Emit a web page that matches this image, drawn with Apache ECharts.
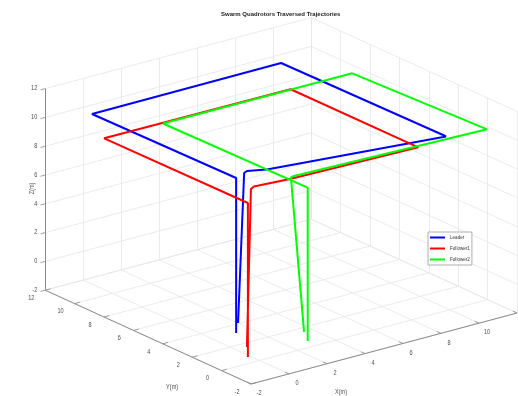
<!DOCTYPE html>
<html>
<head>
<meta charset="utf-8">
<script src="https://cdn.jsdelivr.net/npm/echarts@6/dist/echarts.min.js"></script>
<style>html,body{margin:0;padding:0;background:#fff}#c{width:518px;height:396px}</style>
</head>
<body>
<div id="c"></div>
<script>
// ---- data ----
const titleText = 'Swarm Quadrotors Traversed Trajectories';
const seriesNames = ['Leader', 'Follower1', 'Follower2'];
const gridTicks = [-2, 0, 2, 4, 6, 8, 10, 12];
const xTickLabels = ['-2', '0', '2', '4', '6', '8', '10'];
const yTickLabels = ['-2', '0', '2', '4', '6', '8', '10', '12'];
const zTickLabels = ['-2', '0', '2', '4', '6', '8', '10', '12'];
const axisNames = ['X(m)', 'Y(m)', 'Z(m)'];

const leaderX = [-0.29, 0.03, 0.27, 1.04, 9.39, 9.40, 9.27, -0.72, -0.60, -0.60];
const leaderY = [1.09, 1.09, 1.21, 0.85, -0.54, -0.33, 10.52, 10.47, 0.82, 0.82];
const leaderZ = [0.20, 10.5, 10.5, 10.5, 10.5, 10.5, 10.5, 10.5, 10.5, -0.26];

const follower1X = [-0.07, 0.14, 0.42, 2.16, 8.73, 8.72, -1.04, -0.98, -0.98];
const follower1Y = [0.77, 0.77, 0.93, 0.73, 0.49, 9.16, 9.23, -0.47, -0.47];
const follower1Z = [-1.40, 9.5, 9.5, 9.5, 9.5, 9.5, 9.5, 9.5, -1.19];

const follower2X = [1.96, 1.27, 1.47, 11.28, 10.88, 0.94, 1.07, 1.07];
const follower2Y = [-0.49, -0.49, -0.44, -0.90, 7.76, 7.79, -1.89, -1.89];
const follower2Z = [-0.48, 10.5, 10.5, 10.5, 10.5, 10.5, 10.5, -0.15];

// ---- view (orthographic projection of the 3-D box onto a 2-D plane) ----
const LO = -2, HI = 12;
const view = { ex: [19.0, 5.07], ey: [-14.7, 6.7], ez: 14.4 };
function proj(x, y, z) {
  const a = x - LO, b = y - LO, c = z - LO;
  return [view.ex[0] * a + view.ey[0] * b, view.ex[1] * a + view.ey[1] * b + view.ez * c];
}
function seg(p, q) { return { coords: [proj(p[0], p[1], p[2]), proj(q[0], q[1], q[2])] }; }

const gridSegs = [];
gridTicks.forEach(t => {
  gridSegs.push(seg([t, LO, LO], [t, HI, LO]));
  gridSegs.push(seg([LO, t, LO], [HI, t, LO]));
  gridSegs.push(seg([t, HI, LO], [t, HI, HI]));
  gridSegs.push(seg([LO, HI, t], [HI, HI, t]));
  gridSegs.push(seg([HI, t, LO], [HI, t, HI]));
  gridSegs.push(seg([HI, LO, t], [HI, HI, t]));
});
const axisSegs = [
  seg([LO, LO, LO], [HI, LO, LO]),
  seg([LO, LO, LO], [LO, HI, LO]),
  seg([LO, HI, LO], [LO, HI, HI])
];
const tickSegs = [];
gridTicks.forEach(t => {
  tickSegs.push(seg([t, LO, LO], [t, LO + 0.28, LO]));
  tickSegs.push(seg([LO, t, LO], [LO + 0.28, t, LO]));
  tickSegs.push(seg([LO, HI, t], [LO - 0.25, HI, t]));
});

const labelFont = '"Liberation Sans", Arial, sans-serif';
const texts = [];
xTickLabels.forEach(s => { const v = +s; const p = proj(v, LO, LO); texts.push({ p, text: s, dx: 8, dy: 9.5, align: 'center' }); });
yTickLabels.forEach(s => { const v = +s; const p = proj(LO, v, LO); texts.push({ p, text: s, dx: -14, dy: 8, align: 'center' }); });
zTickLabels.forEach(s => { const v = +s; const p = proj(LO, HI, v); texts.push({ p, text: s, dx: -8, dy: 0, align: 'right' }); });
texts.push({ p: proj(5, LO, LO), text: axisNames[0], dx: -43, dy: 43.5, align: 'center' });
texts.push({ p: proj(LO, 5, LO), text: axisNames[1], dx: 24, dy: 50, align: 'center' });
texts.push({ p: proj(LO, HI, 5), text: axisNames[2], dx: -13, dy: -1, align: 'center', rot: Math.PI / 2 });

function path(xs, ys, zs) { return xs.map((x, i) => proj(x, ys[i], zs[i])); }
const colors = ['#0000ff', '#ff0000', '#00ff00'];
const paths = [
  path(leaderX, leaderY, leaderZ),
  path(follower1X, follower1Y, follower1Z),
  path(follower2X, follower2Y, follower2Z)
];

const chart = echarts.init(document.getElementById('c'), null, { renderer: 'canvas' });
chart.setOption({
  animation: false,
  backgroundColor: '#fff',
  title: {
    text: titleText, left: 221, top: 11, padding: 0,
    textStyle: { fontSize: 6, fontWeight: 'bold', color: '#222', fontFamily: labelFont }
  },
  legend: {
    data: seriesNames, orient: 'vertical', left: 428, top: 232,
    icon: 'rect', itemWidth: 15, itemHeight: 2, itemGap: 6,
    padding: [3, 2, 3, 2], borderColor: '#999', borderWidth: 0.8, backgroundColor: '#fff',
    textStyle: { fontSize: 4.6, color: '#333', fontFamily: labelFont }
  },
  grid: { left: 0, right: 0, top: 0, bottom: 0 },
  xAxis: { type: 'value', min: -251, max: 267, show: false },
  yAxis: { type: 'value', min: -12, max: 384, show: false },
  series: [
    { type: 'lines', coordinateSystem: 'cartesian2d', silent: true, z: 1, data: gridSegs,
      lineStyle: { color: '#e6e6e6', width: 0.8, opacity: 1 } },
    { type: 'lines', coordinateSystem: 'cartesian2d', silent: true, z: 2, data: axisSegs,
      lineStyle: { color: '#8a8a8a', width: 1, opacity: 1 } },
    { type: 'lines', coordinateSystem: 'cartesian2d', silent: true, z: 2, data: tickSegs,
      lineStyle: { color: '#8a8a8a', width: 0.8, opacity: 1 } },
    { type: 'custom', coordinateSystem: 'cartesian2d', silent: true, z: 4,
      data: texts.map(t => t.p),
      renderItem: (params, api) => {
        const t = texts[params.dataIndex];
        const c = api.coord([api.value(0), api.value(1)]);
        return { type: 'text', x: c[0] + t.dx, y: c[1] + t.dy, rotation: t.rot || 0, scaleX: 0.85,
          style: { text: t.text, fill: '#4d4d4d', font: '6.5px ' + labelFont, align: t.align, verticalAlign: 'middle' } };
      } },
    ...paths.map((d, i) => ({
      type: 'line', name: seriesNames[i], data: d, symbol: 'none', z: 3 + i * 0.01,
      color: colors[i], lineStyle: { color: colors[i], width: 2 }, itemStyle: { color: colors[i] }
    }))
  ]
});
</script>
</body>
</html>
